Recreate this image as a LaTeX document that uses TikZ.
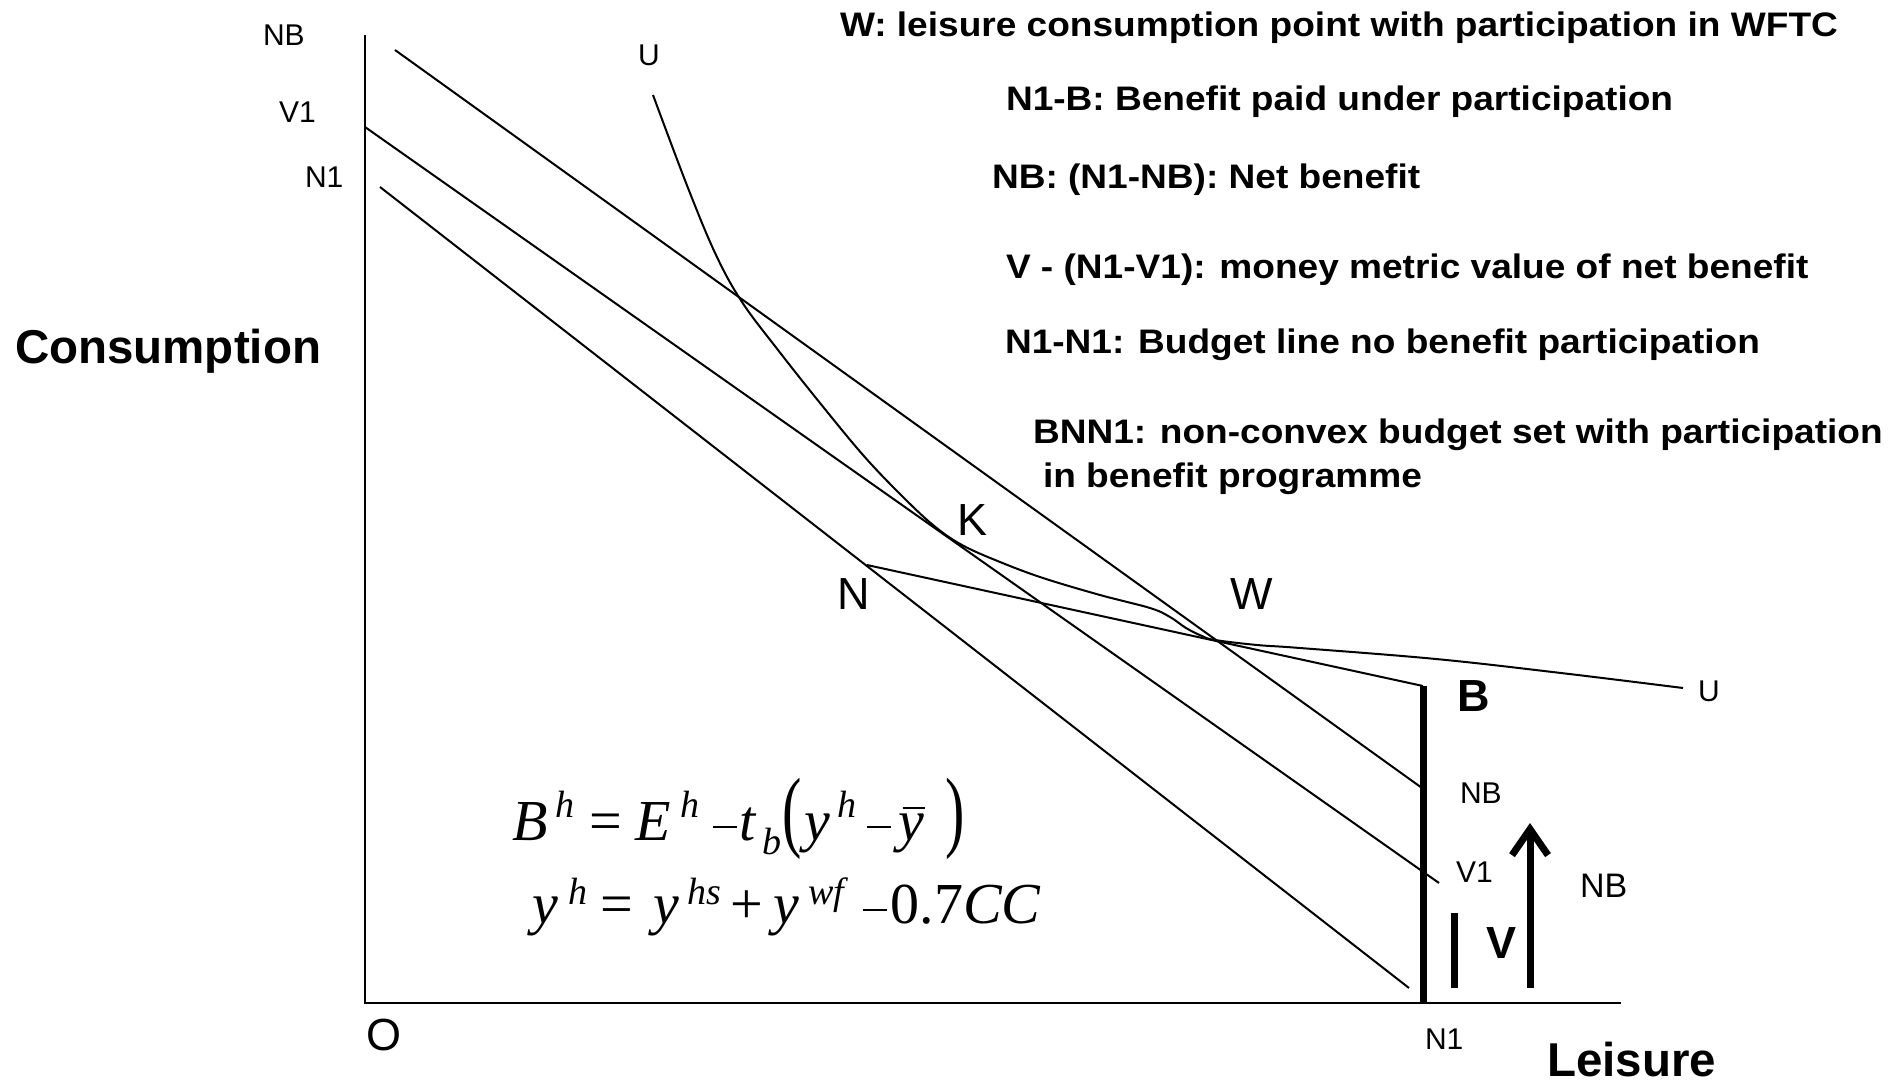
\documentclass[tikz,border=0pt]{standalone}
\usepackage{fontspec}
\usepackage{graphicx}
\usetikzlibrary{arrows.meta}
\newfontfamily\arialf{Liberation Sans}
\newfontfamily\arialst[FakeStretch=1.09]{Liberation Sans}
\newfontfamily\tnr{Liberation Serif}
\newcommand\gat[2]{\rlap{\hspace*{#1pt}#2}}
\newcommand\supx[2]{\raisebox{#1pt}{\fontsize{38}{38}\selectfont\itshape #2}}
\newcommand\mnus{\rule[12pt]{24pt}{2.5pt}}
\newcommand\ybar{\rlap{\itshape y}\hspace*{4pt}\rule[31pt]{22pt}{2.2pt}}
\tikzset{
  lab/.style={anchor=base west, inner sep=0pt, outer sep=0pt, font=\arialf\fontsize{30}{36}\selectfont},
  midlab/.style={lab, font=\arialf\fontsize{34}{40}\selectfont},
  biglab/.style={lab, font=\arialf\fontsize{45}{54}\selectfont},
  boldlab/.style={lab, font=\arialf\bfseries\fontsize{45}{54}\selectfont},
  axlab/.style={lab, font=\arialf\bfseries\fontsize{47.5}{56}\selectfont},
  desc/.style={lab, font=\arialst\bfseries\fontsize{34}{40}\selectfont},
  fml/.style={lab, font=\tnr\fontsize{58}{62}\selectfont},
  budget/.style={line width=2pt},
  heavy/.style={line width=7pt},
}
\begin{document}
\begin{tikzpicture}[x=1pt, y=-1pt]
\path[use as bounding box, fill=white] (0,0) rectangle (1901,1084);

% axes
\coordinate (ytop) at (365,35);
\coordinate (orig) at (365,1003);
\coordinate (xend) at (1621,1003);
\draw[budget] (ytop) -- (orig) -- (xend);

% budget lines
\coordinate (nbS) at (395,50);   \coordinate (nbE) at (1422,788);
\coordinate (v1S) at (365,127);  \coordinate (v1E) at (1439,883);
\coordinate (n1S) at (380,187);  \coordinate (n1E) at (1409,988);
\draw[budget] (nbS) -- (nbE);
\draw[budget] (v1S) -- (v1E);
\draw[budget] (n1S) -- (n1E);

% kinked segment N-B
\coordinate (Npt) at (867,565);
\coordinate (Bpt) at (1423,686);
\coordinate (Bbot) at (1423,1003);
\draw[budget] (Npt) -- (Bpt);
\draw[heavy] (Bpt) -- (Bbot);

% indifference curve U
\draw[budget] plot[smooth, tension=0.6] coordinates {
 (653,95) (688,188) (716,255) (742,302) (778,350) (820,403) (863,455)
 (900,494) (933,525) (962,545)
 (1000,562) (1043,578) (1100,595) (1150,608) (1170,617) (1186,628)
 (1202,636) (1215,640) (1257,645) (1300,648) (1436,659) (1561,673) (1683,688)};

% V bar and NB arrow
\coordinate (vbT) at (1454,913); \coordinate (vbB) at (1454,988);
\draw[heavy] (vbB) -- (vbT);
\coordinate (arB) at (1530,988); \coordinate (arT) at (1530,823);
\draw[heavy, -{Straight Barb[length=26pt, width=36pt]}] (arB) -- (arT);

% axis labels
\node[axlab] (cons) at (15,363) {Consumption};
\node[axlab] (leis) at (1547,1076) {Leisure};
\node[biglab] (O) at (366,1050) {O};

% small labels
\node[lab] (lNBt) at (263,45) {NB};
\node[lab] (lV1t) at (279,122) {V1};
\node[lab] (lN1t) at (305,187) {N1};
\node[lab] (lUt) at (638,65) {U};
\node[biglab] (lK) at (957,535) {K};
\node[biglab] (lN) at (837,609) {N};
\node[biglab] (lW) at (1230,609) {W};
\node[boldlab] (lB) at (1457,711) {B};
\node[lab] (lNBr) at (1460,803) {NB};
\node[lab] (lV1r) at (1456,882) {V1};
\node[midlab] (lNBa) at (1580,897) {NB};
\node[boldlab] (lV) at (1486,958) {V};
\node[lab] (lN1b) at (1425,1049) {N1};
\node[lab] (lUr) at (1698,701) {U};

% descriptions
\node[desc] (d1) at (840,36) {W: leisure consumption point with participation in WFTC};
\node[desc] (d2) at (1006,110) {N1-B: Benefit paid under participation};
\node[desc] (d3) at (992,188) {NB: (N1-NB): Net benefit};
\node[desc] (d4) at (1006,278) {V - (N1-V1): money metric value of net benefit};
\node[desc] (d5) at (1005,353) {N1-N1: Budget line no benefit participation};
\node[desc] (d6) at (1033,443) {BNN1: non-convex budget set with participation};
\node[desc] (d7) at (1043,487) {in benefit programme};

% formulas
\node[fml] (eq1) at (512,840) {\gat{0}{\itshape B}\gat{43}{\supx{23}{h}}\gat{77}{=}\gat{123}{\itshape E}\gat{168}{\supx{23}{h}}\gat{200}{\mnus}\gat{227}{\itshape t}\gat{250}{\supx{-14}{b}}\gat{270}{\scalebox{1}[1.55]{(}}\gat{292}{\itshape y}\gat{325}{\supx{23}{h}}\gat{354}{\mnus}\gat{386}{\ybar}\gat{433}{\scalebox{1}[1.55]{)}}};
\node[fml] (eq2) at (532,923) {\gat{0}{\itshape y}\gat{36}{\supx{19}{h}}\gat{68}{=}\gat{121}{\itshape y}\gat{155}{\supx{19}{hs}}\gat{198}{+}\gat{241}{\itshape y}\gat{276}{\supx{19}{wf}}\gat{330}{\mnus}\gat{358}{0.7\itshape CC}};
\end{tikzpicture}
\end{document}
